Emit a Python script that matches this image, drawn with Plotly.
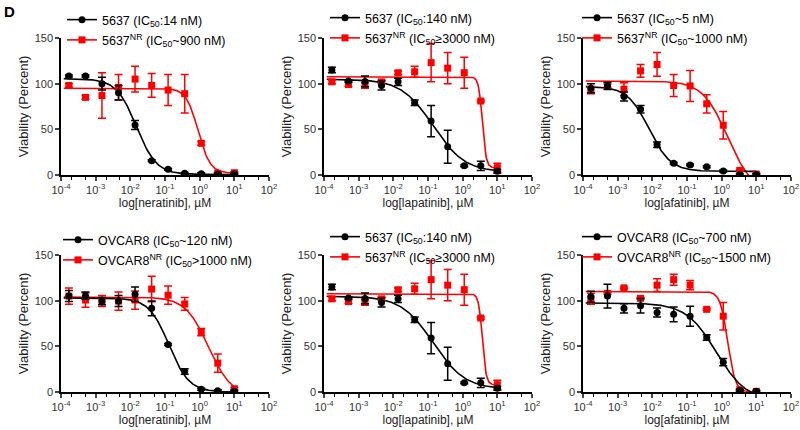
import numpy as np
import plotly.graph_objects as go

# ---------------- data ----------------
conc = [0.000169, 0.000508, 0.00152, 0.00457, 0.0137, 0.0412, 0.123, 0.370, 1.11, 3.33, 10.0]

# panel 1 : neratinib, 5637
p1_blk = [108.4, 108.4, 100, 90, 54.7, 15.7, 6.2, 1.8, 1.5, 1.0, 1.0]
p1_blk_err = [1, 1, 7, 8, 5, 1, 1, 1, 1, 1, 1]
p1_red = [98, 85, 87, 96, 105, 98, 93, 89, 34.7, 2, 2.5]
p1_red_err = [2, 2, 25, 14, 14, 13, 17, 21, 2, 1, 1]
# panel 2 : lapatinib, 5637
p2_blk = [115, 103, 102.5, 98, 102, 79, 59, 31, 10, 10, 4]
p2_blk_err = [3, 1, 6, 5, 4, 3, 17, 18, 1, 5, 2]
p2_red = [102, 99, 98, 102, 112, 113, 123, 117, 112, 81, 8]
p2_red_err = [2, 2, 3, 2, 2, 6, 21, 17, 17, 1, 5]
# panel 3 : afatinib, 5637
p3_blk = [95, 97.5, 86, 72, 33, 13, 11, 9, 4.4, 0.5, 0.5]
p3_blk_err = [5, 4, 5, 4, 3, 1, 1, 1, 1, 1, 1]
p3_red = [93, 98, 94, 114, 121, 98, 97.5, 78, 54.5, 5, 1]
p3_red_err = [4, 2, 7, 7, 13, 12, 17, 10, 15, 1, 1]
# panel 4 : neratinib, OVCAR8
p4_blk = [105, 105.5, 99.6, 99.6, 107, 91.6, 52, 22.5, 3, 1.5, 0.7]
p4_blk_err = [6, 4, 4, 6, 8, 8, 1, 3, 1, 1, 1]
p4_red = [105, 100.7, 99.6, 99.6, 100.7, 112.7, 106, 96.4, 65.5, 31.6, 3.6]
p4_red_err = [9, 8, 6, 10, 10, 14, 10, 7, 4, 10, 1]
# panel 6 : afatinib, OVCAR8
p6_blk = [104.4, 105, 91.6, 94.5, 87, 85, 83, 59.6, 32.7, 1.8, 0.7]
p6_blk_err = [6, 13, 5, 8, 5, 8, 11, 3, 4, 1, 1]
p6_red = [102, 108, 114, 102.5, 117, 123, 117, 90.5, 83, 2.5, 0.7]
p6_red_err = [6, 1, 1, 1, 7, 6, 5, 1, 15, 1, 1]

# fitted 4-parameter logistic parameters: top, bottom, IC50 (uM), hill
fit_p1_blk = [105.5, 0.5, 0.015, 1.5]
fit_p1_red = [95, 2, 0.9, 2.5]
fit_p2_blk = [105, 3, 0.14, 0.95]
fit_p2_red = [107.5, 8, 3.7, 8]
fit_p3_blk = [97, 4, 0.008, 1.4]
fit_p3_red = [103, -20, 1.5, 1.2]
fit_p4_blk = [103, 0, 0.13, 1.5]
fit_p4_red = [104, -5, 1.8, 1.3]
fit_p6_blk = [97.5, -10, 0.7, 1.0]
fit_p6_red = [110, 0, 1.5, 4]

legend_blk = ["5637 (IC<sub>50</sub>:14 nM)", "5637 (IC<sub>50</sub>:140 nM)", "5637 (IC<sub>50</sub>~5 nM)",
              "OVCAR8 (IC<sub>50</sub>~120 nM)", "5637 (IC<sub>50</sub>:140 nM)", "OVCAR8 (IC<sub>50</sub>~700 nM)"]
legend_red = ["5637<sup>NR</sup> (IC<sub>50</sub>~900 nM)", "5637<sup>NR</sup> (IC<sub>50</sub>≥3000 nM)",
              "5637<sup>NR</sup> (IC<sub>50</sub>~1000 nM)", "OVCAR8<sup>NR</sup> (IC<sub>50</sub>>1000 nM)",
              "5637<sup>NR</sup> (IC<sub>50</sub>≥3000 nM)", "OVCAR8<sup>NR</sup> (IC<sub>50</sub>~1500 nM)"]
x_titles = ["log[neratinib], µM", "log[lapatinib], µM", "log[afatinib], µM",
            "log[neratinib], µM", "log[lapatinib], µM", "log[afatinib], µM"]

tick_vals = [1e-4, 1e-3, 1e-2, 1e-1, 1e0, 1e1, 1e2]
tick_text = ["10<sup>-4</sup>", "10<sup>-3</sup>", "10<sup>-2</sup>", "10<sup>-1</sup>",
             "10<sup>0</sup>", "10<sup>1</sup>", "10<sup>2</sup>"]

panels = [
    (p1_blk, p1_blk_err, p1_red, p1_red_err, fit_p1_blk, fit_p1_red),
    (p2_blk, p2_blk_err, p2_red, p2_red_err, fit_p2_blk, fit_p2_red),
    (p3_blk, p3_blk_err, p3_red, p3_red_err, fit_p3_blk, fit_p3_red),
    (p4_blk, p4_blk_err, p4_red, p4_red_err, fit_p4_blk, fit_p4_red),
    (p2_blk, p2_blk_err, p2_red, p2_red_err, fit_p2_blk, fit_p2_red),
    (p6_blk, p6_blk_err, p6_red, p6_red_err, fit_p6_blk, fit_p6_red),
]

# ---------------- layout geometry ----------------
W, H = 800, 430
col_px = [(61, 269), (324, 532), (583, 791)]
row_px = [(38, 175), (255, 392)]
legend_px = [(62, 5), (325, 3), (577, 3), (58, 225), (325, 222), (577, 222)]

BLACK = "#000000"
RED = "#ff0000"
FONT = "Arial, Liberation Sans, sans-serif"


def logistic(x, p):
    top, bottom, ic50, hill = p
    return bottom + (top - bottom) / (1.0 + (x / ic50) ** hill)


xfit = np.logspace(np.log10(1.2e-4), 1, 300)

fig = go.Figure()
layout = dict()

for i, (blk, blk_err, red, red_err, fblk, fred) in enumerate(panels):
    n = i + 1
    xa = "x" if n == 1 else f"x{n}"
    ya = "y" if n == 1 else f"y{n}"
    lg = "legend" if n == 1 else f"legend{n}"

    # fitted curves
    fig.add_trace(go.Scatter(x=xfit, y=logistic(xfit, fred), mode="lines",
                             line=dict(color=RED, width=1.6), xaxis=xa, yaxis=ya,
                             showlegend=False, hoverinfo="skip"))
    fig.add_trace(go.Scatter(x=xfit, y=logistic(xfit, fblk), mode="lines",
                             line=dict(color=BLACK, width=1.6), xaxis=xa, yaxis=ya,
                             showlegend=False, hoverinfo="skip"))
    # data points
    fig.add_trace(go.Scatter(x=conc, y=red, mode="markers",
                             marker=dict(symbol="square", size=7, color=RED),
                             error_y=dict(type="data", array=red_err, color=RED, thickness=1.5, width=4),
                             xaxis=xa, yaxis=ya, showlegend=False))
    fig.add_trace(go.Scatter(x=conc, y=blk, mode="markers",
                             marker=dict(symbol="circle", size=7, color=BLACK),
                             error_y=dict(type="data", array=blk_err, color=BLACK, thickness=1.5, width=4),
                             xaxis=xa, yaxis=ya, showlegend=False))
    # legend entries
    fig.add_trace(go.Scatter(x=[None], y=[None], mode="lines+markers", name=legend_blk[i],
                             line=dict(color=BLACK, width=1.6),
                             marker=dict(symbol="circle", size=7, color=BLACK),
                             xaxis=xa, yaxis=ya, legend=lg, legendgroup=f"b{n}"))
    fig.add_trace(go.Scatter(x=[None], y=[None], mode="lines+markers", name=legend_red[i],
                             line=dict(color=RED, width=1.6),
                             marker=dict(symbol="square", size=7, color=RED),
                             xaxis=xa, yaxis=ya, legend=lg, legendgroup=f"r{n}"))

    r, c = divmod(i, 3)
    x0, x1 = col_px[c]
    ytop, ybot = row_px[r]
    xkey = "xaxis" if n == 1 else f"xaxis{n}"
    ykey = "yaxis" if n == 1 else f"yaxis{n}"
    layout[xkey] = dict(
        domain=[x0 / W, x1 / W], anchor=ya, type="log", range=[-4, 2],
        tickvals=tick_vals, ticktext=tick_text, ticks="outside", ticklen=4, tickwidth=1.5,
        tickfont=dict(size=11, color="#333333", family=FONT),
        showline=True, linecolor=BLACK, linewidth=1.5, showgrid=False, zeroline=False,
        minor=dict(ticks="outside", ticklen=3, tickwidth=1, tickcolor=BLACK, showgrid=False),
        title=dict(text=x_titles[i], font=dict(size=12, color="#222222", family=FONT), standoff=2),
        automargin=False,
    )
    layout[ykey] = dict(
        domain=[1 - ybot / H, 1 - ytop / H], anchor=xa, range=[0, 150],
        tickvals=[0, 50, 100, 150], ticks="outside", ticklen=4, tickwidth=1.5,
        tickfont=dict(size=11, color="#333333", family=FONT),
        showline=True, linecolor=BLACK, linewidth=1.5, showgrid=False, zeroline=False,
        title=dict(text="Viability (Percent)", font=dict(size=13, color="#222222", family=FONT), standoff=3),
        automargin=False,
    )
    lx, ly = legend_px[i]
    layout[lg] = dict(x=lx / W, y=1 - ly / H, xanchor="left", yanchor="top",
                      bgcolor="rgba(0,0,0,0)", font=dict(size=12.5, color=BLACK, family=FONT),
                      tracegroupgap=1, itemwidth=30)

fig.update_layout(
    width=W, height=H, margin=dict(l=0, r=0, t=0, b=0),
    paper_bgcolor="white", plot_bgcolor="white",
    font=dict(family=FONT, color=BLACK),
    annotations=[dict(text="<b>D</b>", x=2 / W, y=1 - 1 / H, xref="paper", yref="paper",
                      xanchor="left", yanchor="top", showarrow=False,
                      font=dict(size=15, color=BLACK, family=FONT))],
    **layout,
)

fig.write_html("out.html", config={"displayModeBar": False},
               post_script="document.body.style.margin='0';document.body.style.overflow='hidden';")
